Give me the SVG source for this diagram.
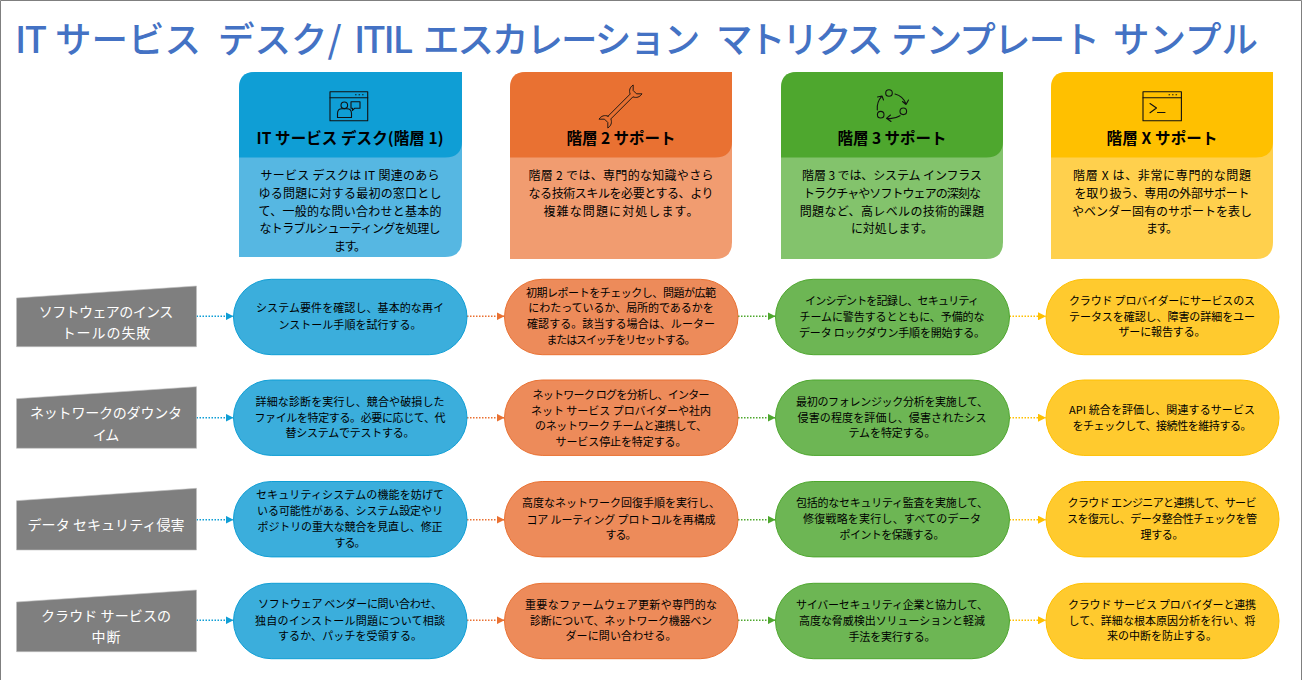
<svg xmlns="http://www.w3.org/2000/svg" width="1302" height="680" viewBox="0 0 1302 680">
<style>
text{font-family:"Noto Sans CJK JP","Liberation Sans",sans-serif;text-anchor:middle;dominant-baseline:central;fill:#000}
.title{font-size:36.500px;font-weight:500;fill:#4472C4;text-anchor:start}
.h{font-size:15.500px;font-weight:700;transform:translateY(-1px)}
.b{font-size:12px;transform:translateY(-1px)}
.p{font-size:11px;transform:translateY(-1px)}
.l{font-size:14px;fill:#fff;transform:translateY(-1.500px)}
.gray{fill:#7F7F7F;stroke:#BFBFBF;stroke-width:.6}
.ic{fill:none;stroke:#111;stroke-width:1.100;stroke-linejoin:round;stroke-linecap:round}
.pb{fill:#3BAEDC;stroke:#0F9ED5}.po{fill:#ED8B5A;stroke:#E97132}.pg{fill:#6DB654;stroke:#4EA72E}.py{fill:#FFCA2E;stroke:#FFC000}
.c{fill:none;stroke-width:1.500;stroke-dasharray:1.500 1.500}
.cb{stroke:#0F9ED5}.co{stroke:#E97132}.cg{stroke:#4EA72E}.cy{stroke:#FFC000}
</style>
<defs>
<marker id="ab" markerUnits="userSpaceOnUse" markerWidth="9" markerHeight="8" refX="8" refY="4" orient="auto"><path d="M0 0L8 4L0 8Z" fill="#0F9ED5"/></marker>
<marker id="ao" markerUnits="userSpaceOnUse" markerWidth="9" markerHeight="8" refX="8" refY="4" orient="auto"><path d="M0 0L8 4L0 8Z" fill="#E97132"/></marker>
<marker id="ag" markerUnits="userSpaceOnUse" markerWidth="9" markerHeight="8" refX="8" refY="4" orient="auto"><path d="M0 0L8 4L0 8Z" fill="#4EA72E"/></marker>
<marker id="ay" markerUnits="userSpaceOnUse" markerWidth="9" markerHeight="8" refX="8" refY="4" orient="auto"><path d="M0 0L8 4L0 8Z" fill="#FFC000"/></marker>
</defs>
<rect width="1302" height="680" fill="#fff"/>
<path d="M.5 680V.5H1301.5V680" fill="none" stroke="#7F7F7F"/>
<text class="title" y="37"><tspan x="15" letter-spacing="-1.500">IT </tspan><tspan x="55">サービス </tspan><tspan x="218">デスク/ </tspan><tspan x="354" letter-spacing="-2">ITIL </tspan><tspan x="423" letter-spacing="-2">エスカレーション </tspan><tspan x="716" letter-spacing="-3.500">マトリクス </tspan><tspan x="891" letter-spacing="-1.800">テンプレート </tspan><tspan x="1113">サンプル</tspan></text>

<g id="connectors">
<path class="c cb" marker-end="url(#ab)" d="M196.500 316.300H233.500"/><path class="c co" marker-end="url(#ao)" d="M467 316.300H504.500"/><path class="c cg" marker-end="url(#ag)" d="M738 316.300H775.500"/><path class="c cy" marker-end="url(#ay)" d="M1009.500 316.300H1046"/>
<path class="c cb" marker-end="url(#ab)" d="M196.500 417.700H233.500"/><path class="c co" marker-end="url(#ao)" d="M467 417.700H504.500"/><path class="c cg" marker-end="url(#ag)" d="M738 417.700H775.500"/><path class="c cy" marker-end="url(#ay)" d="M1009.500 417.700H1046"/>
<path class="c cb" marker-end="url(#ab)" d="M196.500 519.700H233.500"/><path class="c co" marker-end="url(#ao)" d="M467 519.700H504.500"/><path class="c cg" marker-end="url(#ag)" d="M738 519.700H775.500"/><path class="c cy" marker-end="url(#ay)" d="M1009.500 519.700H1046"/>
<path class="c cb" marker-end="url(#ab)" d="M196.500 620.300H233.500"/><path class="c co" marker-end="url(#ao)" d="M467 620.300H504.500"/><path class="c cg" marker-end="url(#ag)" d="M738 620.300H775.500"/><path class="c cy" marker-end="url(#ay)" d="M1009.500 620.300H1046"/>
</g>

<g id="card-1">
<path d="M239 257V88Q239 72 255 72H462V240Q462 257 445 257Z" fill="#56B7E2"/>
<path d="M239 157.500V88Q239 72 255 72H462V141Q462 157.500 445 157.500Z" fill="#0F9ED5"/>
<g class="ic"><rect x="330" y="91.700" width="37.700" height="29"/><path d="M330 97.700H367.700M355.500 94.800h.6M359 94.800h.6M362.500 94.800h.6"/><circle cx="344.300" cy="105.300" r="3.300"/><path d="M337.500 117.500V113.500Q337.500 108.700 342 108.700H346.800Q351.500 108.700 351.500 113.500V117.500Z"/><path d="M351 101.700H360V108.300H354.500L352.500 110.500V108.300H351Z"/></g>
<text class="h" x="350" y="138.300" textLength="187">IT サービス デスク(階層 1)</text>
<text class="b" x="350" y="175.700" textLength="179">サービス デスクは IT 関連のあら</text>
<text class="b" x="350" y="193.300" textLength="183">ゆる問題に対する最初の窓口とし</text>
<text class="b" x="350" y="211" textLength="183">て、一般的な問い合わせと基本的</text>
<text class="b" x="350" y="228.300" textLength="181">なトラブルシューティングを処理し</text>
<text class="b" x="350" y="246" textLength="32">ます。</text>
</g>
<g id="card-2">
<path d="M510 259V88Q510 72 526 72H732V242Q732 259 715 259Z" fill="#F19C70"/>
<path d="M510 157.500V88Q510 72 526 72H732V141Q732 157.500 715 157.500Z" fill="#E97132"/>
<path class="ic" transform="translate(620.500 106.500) rotate(-45) scale(.78)" stroke-width="1.300" d="M-20 -2.500L20 -2.500C22 -7 26 -9 31 -8L26 -3L26 3L31 8C26 9 22 7 20 2.500L-20 2.500C-22 7 -26 9 -31 8L-26 3L-26 -3L-31 -8C-26 -9 -22 -7 -20 -2.500Z"/>
<text class="h" x="621" y="138.300" textLength="109">階層 2 サポート</text>
<text class="b" x="621" y="175.700" textLength="185">階層 2 では、専門的な知識やさら</text>
<text class="b" x="621" y="193.300" textLength="185">なる技術スキルを必要とする、より</text>
<text class="b" x="621" y="211" textLength="155">複雑な問題に対処します。</text>
</g>
<g id="card-3">
<path d="M781 259V88Q781 72 797 72H1003V242Q1003 259 986 259Z" fill="#83C36C"/>
<path d="M781 157.500V88Q781 72 797 72H1003V141Q1003 157.500 986 157.500Z" fill="#4EA72E"/>
<g class="ic"><circle cx="889" cy="93" r="3.300"/><circle cx="903.300" cy="111.300" r="3.300"/><circle cx="880.700" cy="114.700" r="3.300"/><path d="M895 94Q903 96 906 104M902.500 101.500L906 104.500L908.500 100M900 115.700Q894 119.500 886.700 118.300M890.500 115L886.500 118.300L891 121.500M877.300 110Q876.500 102 881.700 96.300M877.500 97L882 96L883.500 100"/></g>
<text class="h" x="892" y="138.300" textLength="109">階層 3 サポート</text>
<text class="b" x="892" y="175.700" textLength="180">階層 3 では、システム インフラス</text>
<text class="b" x="892" y="193.300" textLength="178">トラクチャやソフトウェアの深刻な</text>
<text class="b" x="892" y="211" textLength="184.500">問題など、高レベルの技術的課題</text>
<text class="b" x="892" y="228.300" textLength="82">に対処します。</text>
</g>
<g id="card-4">
<path d="M1051 259V88Q1051 72 1067 72H1273V242Q1273 259 1256 259Z" fill="#FFD04D"/>
<path d="M1051 157.500V88Q1051 72 1067 72H1273V141Q1273 157.500 1256 157.500Z" fill="#FFC000"/>
<g class="ic"><rect x="1143" y="91.700" width="38.400" height="29"/><path d="M1143 97.700H1181.400M1169 94.800h.6M1172.500 94.800h.6M1176 94.800h.6M1150 103.500L1156.500 108L1150 112.700M1157.500 112.500H1165"/></g>
<text class="h" x="1162" y="138.300" textLength="111">階層 X サポート</text>
<text class="b" x="1162" y="175.700" textLength="178">階層 X は、非常に専門的な問題</text>
<text class="b" x="1162" y="193.300" textLength="175">を取り扱う、専用の外部サポート</text>
<text class="b" x="1162" y="211" textLength="180">やベンダー固有のサポートを表し</text>
<text class="b" x="1162" y="228.300" textLength="32">ます。</text>
</g>

<g id="row-1-label"><path class="gray" d="M16.500 298L196.500 286V346.700H16.500Z"/><text class="l" x="106" y="312.700" textLength="134.500">ソフトウェアのインス</text><text class="l" x="106" y="333" textLength="88.600">トールの失敗</text></g>
<g id="row-2-label"><path class="gray" d="M16.500 398.700L196.500 386.700V448.300H16.500Z"/><text class="l" x="106" y="413" textLength="152">ネットワークのダウンタ</text><text class="l" x="106" y="435" textLength="26.500">イム</text></g>
<g id="row-3-label"><path class="gray" d="M16.500 500.700L196.500 488.300V550H16.500Z"/><text class="l" x="106" y="525" textLength="157">データ セキュリティ侵害</text></g>
<g id="row-4-label"><path class="gray" d="M16.500 602L196.500 590V651.700H16.500Z"/><text class="l" x="106" y="616" textLength="130">クラウド サービスの</text><text class="l" x="106" y="637.700" textLength="29">中断</text></g>

<g id="p11"><rect class="pb" x="233.500" y="279.300" width="233.500" height="75.400" rx="37.700"/><text class="p" x="350" y="308.300" textLength="188">システム要件を確認し、基本的な再イ</text><text class="p" x="350" y="325" textLength="143">ンストール手順を試行する。</text></g>
<g id="p12"><rect class="po" x="504.500" y="279.300" width="233.500" height="75.400" rx="37.700"/><text class="p" x="621" y="292.700" textLength="190">初期レポートをチェックし、問題が広範</text><text class="p" x="621" y="308.300" textLength="185.500">にわたっているか、局所的であるかを</text><text class="p" x="621" y="324.300" textLength="188">確認する。該当する場合は、ルーター</text><text class="p" x="621" y="340" textLength="149">またはスイッチをリセットする。</text></g>
<g id="p13"><rect class="pg" x="775.500" y="279.300" width="234" height="75.400" rx="37.700"/><text class="p" x="892" y="300.700" textLength="174">インシデントを記録し、セキュリティ</text><text class="p" x="892" y="316.700" textLength="185">チームに警告するとともに、予備的な</text><text class="p" x="892" y="332.700" textLength="186">データ ロックダウン手順を開始する。</text></g>
<g id="p14"><rect class="py" x="1046" y="279.300" width="233" height="75.400" rx="37.700"/><text class="p" x="1162" y="301" textLength="186">クラウド プロバイダーにサービスのス</text><text class="p" x="1162" y="317" textLength="186">テータスを確認し、障害の詳細をユー</text><text class="p" x="1162" y="332.300" textLength="87">ザーに報告する。</text></g>

<g id="p21"><rect class="pb" x="233.500" y="380" width="233.500" height="75.400" rx="37.700"/><text class="p" x="350" y="401.700" textLength="189">詳細な診断を実行し、競合や破損した</text><text class="p" x="350" y="417.700" textLength="191">ファイルを特定する。必要に応じて、代</text><text class="p" x="350" y="433.300" textLength="129">替システムでテストする。</text></g>
<g id="p22"><rect class="po" x="504.500" y="380" width="233.500" height="75.400" rx="37.700"/><text class="p" x="621" y="395.300" textLength="177">ネットワーク ログを分析し、インター</text><text class="p" x="621" y="411" textLength="180">ネット サービス プロバイダーや社内</text><text class="p" x="621" y="426.300" textLength="172">のネットワーク チームと連携して、</text><text class="p" x="621" y="441.700" textLength="131">サービス停止を特定する。</text></g>
<g id="p23"><rect class="pg" x="775.500" y="380" width="234" height="75.400" rx="37.700"/><text class="p" x="892" y="401.700" textLength="192">最初のフォレンジック分析を実施して、</text><text class="p" x="892" y="418.300" textLength="189">侵害の程度を評価し、侵害されたシス</text><text class="p" x="892" y="433.300" textLength="87">テムを特定する。</text></g>
<g id="p24"><rect class="py" x="1046" y="380" width="233" height="75.400" rx="37.700"/><text class="p" x="1162" y="410" textLength="186">API 統合を評価し、関連するサービス</text><text class="p" x="1162" y="425.700" textLength="179">をチェックして、接続性を維持する。</text></g>

<g id="p31"><rect class="pb" x="233.500" y="481.500" width="233.500" height="75.400" rx="37.700"/><text class="p" x="350" y="495" textLength="188">セキュリティシステムの機能を妨げて</text><text class="p" x="350" y="511" textLength="186">いる可能性がある、システム設定やリ</text><text class="p" x="350" y="526.700" textLength="185">ポジトリの重大な競合を見直し、修正</text><text class="p" x="350" y="542.700" textLength="31">する。</text></g>
<g id="p32"><rect class="po" x="504.500" y="481.500" width="233.500" height="75.400" rx="37.700"/><text class="p" x="621" y="503.300" textLength="198">高度なネットワーク回復手順を実行し、</text><text class="p" x="621" y="520" textLength="189">コア ルーティング プロトコルを再構成</text><text class="p" x="621" y="535" textLength="31">する。</text></g>
<g id="p33"><rect class="pg" x="775.500" y="481.500" width="234" height="75.400" rx="37.700"/><text class="p" x="892" y="503.300" textLength="192">包括的なセキュリティ監査を実施して、</text><text class="p" x="892" y="519.300" textLength="178">修復戦略を実行し、すべてのデータ</text><text class="p" x="892" y="535" textLength="105">ポイントを保護する。</text></g>
<g id="p34"><rect class="py" x="1046" y="481.500" width="233" height="75.400" rx="37.700"/><text class="p" x="1162" y="503.300" textLength="189">クラウド エンジニアと連携して、サービ</text><text class="p" x="1162" y="519.300" textLength="190">スを復元し、データ整合性チェックを管</text><text class="p" x="1162" y="535" textLength="43">理する。</text></g>

<g id="p41"><rect class="pb" x="233.500" y="583.300" width="233.500" height="75.400" rx="37.700"/><text class="p" x="350" y="604.300" textLength="184">ソフトウェア ベンダーに問い合わせ、</text><text class="p" x="350" y="620.700" textLength="190">独自のインストール問題について相談</text><text class="p" x="350" y="636" textLength="144">するか、パッチを受領する。</text></g>
<g id="p42"><rect class="po" x="504.500" y="583.300" width="233.500" height="75.400" rx="37.700"/><text class="p" x="621" y="605" textLength="192">重要なファームウェア更新や専門的な</text><text class="p" x="621" y="620.700" textLength="182">診断について、ネットワーク機器ベン</text><text class="p" x="621" y="636" textLength="111">ダーに問い合わせる。</text></g>
<g id="p43"><rect class="pg" x="775.500" y="583.300" width="234" height="75.400" rx="37.700"/><text class="p" x="892" y="605" textLength="192">サイバーセキュリティ企業と協力して、</text><text class="p" x="892" y="620.700" textLength="186">高度な脅威検出ソリューションと軽減</text><text class="p" x="892" y="636.700" textLength="87">手法を実行する。</text></g>
<g id="p44"><rect class="py" x="1046" y="583.300" width="233" height="75.400" rx="37.700"/><text class="p" x="1162" y="605" textLength="188">クラウド サービス プロバイダーと連携</text><text class="p" x="1162" y="620.700" textLength="187">して、詳細な根本原因分析を行い、将</text><text class="p" x="1162" y="636" textLength="110">来の中断を防止する。</text></g>
</svg>
